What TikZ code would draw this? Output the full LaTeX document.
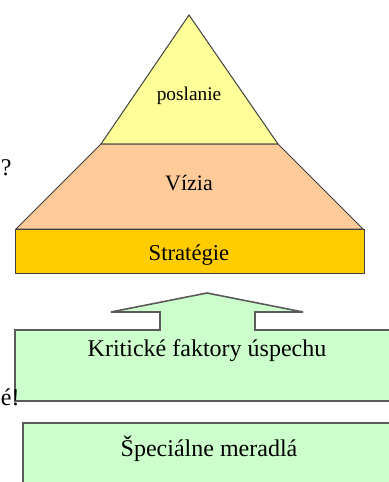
\documentclass[tikz,border=0pt]{standalone}
\usepackage{fontspec}
\setmainfont{Liberation Serif}

\definecolor{poslYellow}{RGB}{255,255,153}
\definecolor{viziaPeach}{RGB}{255,204,153}
\definecolor{stratGold}{RGB}{255,204,0}
\definecolor{faktGreen}{RGB}{204,255,204}

\tikzset{every picture/.style={line width=0.75pt}}
\tikzset{
  layer/.style={draw={rgb,255:red,64;green,64;blue,64}, line join=miter},
  greenbox/.style={draw={rgb,255:red,90;green,90;blue,90}, fill=faktGreen, line width=1.2pt},
  label/.style={anchor=base, inner sep=0.75pt}
}

\begin{document}
\begin{tikzpicture}[x=0.75pt,y=0.75pt,yscale=-1,xscale=1]
\useasboundingbox (0,0) rectangle (389,482);
\clip (0,0) rectangle (389,482);

%Shape: Triangle [poslanie]
\draw [layer, fill=poslYellow]  (189,15) -- (278,144) -- (101,144) -- cycle ;
%Shape: Trapezoid [vizia]
\draw [layer, fill=viziaPeach]  (101,144) -- (278,144) -- (363,229) -- (16,229) -- cycle ;
%Shape: Rectangle [strategie]
\draw [layer, fill=stratGold]  (15,229) -- (364,229) -- (364,273) -- (15,273) -- cycle ;
%Shape: Up Arrow Callout [faktory]
\draw [greenbox]  (15,330) -- (160,330) -- (160,312) -- (111,312) -- (207,293) -- (303,312) -- (255,312) -- (255,330) -- (395,330) -- (395,401) -- (15,401) -- cycle ;
%Shape: Rectangle [meradla]
\draw [greenbox]  (23,423) -- (395,423) -- (395,490) -- (23,490) -- cycle ;

% Text Node
\node [label, font=\fontsize{14.5}{16}\selectfont] (poslanie) at (189,100) {poslanie};
% Text Node
\node [label, font=\fontsize{16.5}{18}\selectfont] (vizia) at (189,190) {Vízia};
% Text Node
\node [label, font=\fontsize{17}{19}\selectfont] (strategie) at (189,260) {Stratégie};
% Text Node
\node [label, font=\fontsize{18}{20}\selectfont] (faktory) at (207,356) {Kritické faktory úspechu};
% Text Node
\node [label, font=\fontsize{18}{20}\selectfont] (meradla) at (209,456) {Špeciálne meradlá};
% Text Node
\node [anchor=base west, inner sep=0pt, font=\fontsize{18}{20}\selectfont] (otaznik) at (0.5,175) {?};
% Text Node
\node [anchor=base west, inner sep=0pt, font=\fontsize{18}{20}\selectfont] (vykricnik) at (0.5,405) {é!};

\end{tikzpicture}
\end{document}
